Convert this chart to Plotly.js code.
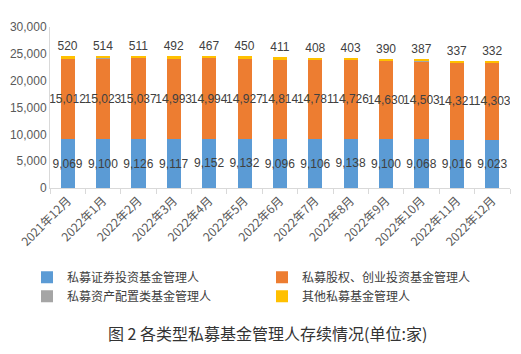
<!DOCTYPE html>
<html>
<head>
<meta charset="utf-8">
<script src="https://cdn.plot.ly/plotly-3.0.1.min.js"></script>
<style>html,body{margin:0;padding:0;background:#fff;}#chart{width:521px;height:354px;}</style>
</head>
<body>
<div id="chart"></div>
<script>
var months = ["2021年12月","2022年1月","2022年2月","2022年3月","2022年4月","2022年5月","2022年6月","2022年7月","2022年8月","2022年9月","2022年10月","2022年11月","2022年12月"];
var securities = [9069, 9100, 9126, 9117, 9152, 9132, 9096, 9106, 9138, 9100, 9068, 9016, 9023];
var equityVC = [15012, 15023, 15037, 14993, 14994, 14927, 14814, 14781, 14726, 14630, 14503, 14321, 14303];
var assetAlloc = [9, 9, 9, 9, 9, 9, 9, 9, 9, 9, 9, 9, 9];
var others = [520, 514, 511, 492, 467, 450, 411, 408, 403, 390, 387, 337, 332];
var seriesNames = ["私募证券投资基金管理人","私募股权、创业投资基金管理人","私募资产配置类基金管理人","其他私募基金管理人"];
var caption = "图 2 各类型私募基金管理人存续情况(单位:家)";

function fmt(v){ return v.toLocaleString('en-US'); }
var labelFont = {family: "Liberation Sans, Arial, sans-serif", size: 12, color: "#404040"};

var traces = [
  {type:'bar', name: seriesNames[0], x: months, y: securities, marker:{color:'#5B9BD5'},
   text: securities.map(fmt), textposition:'inside', insidetextanchor:'middle', textangle:0,
   constraintext:'none', textfont: labelFont, insidetextfont: labelFont, hoverinfo:'none'},
  {type:'bar', name: seriesNames[1], x: months, y: equityVC, marker:{color:'#ED7D31'},
   text: equityVC.map(fmt), textposition:'inside', insidetextanchor:'middle', textangle:0,
   constraintext:'none', textfont: labelFont, insidetextfont: labelFont, hoverinfo:'none'},
  {type:'bar', name: seriesNames[2], x: months, y: assetAlloc, marker:{color:'#A5A5A5'},
   textposition:'none', hoverinfo:'none'},
  {type:'bar', name: seriesNames[3], x: months, y: others, marker:{color:'#FFC000'},
   text: others.map(fmt), textposition:'outside', textangle:0, constraintext:'none',
   textfont: labelFont, outsidetextfont: labelFont, cliponaxis:false, hoverinfo:'none'}
];

var layout = {
  width: 521, height: 354,
  margin: {l: 50, r: 11, t: 27, b: 166},
  paper_bgcolor: '#ffffff', plot_bgcolor: '#ffffff',
  barmode: 'stack', bargap: 0.6,
  font: {family: "Noto Sans CJK SC, Liberation Sans, sans-serif", color: '#595959', size: 12},
  showlegend: true,
  xaxis: {
    type: 'category', tickangle: -45, tickson: 'boundaries', ticks: 'outside', ticklen: 5,
    tickcolor: '#d9d9d9', showline: true, linecolor: '#d9d9d9', linewidth: 1,
    showgrid: false, zeroline: false,
    tickfont: {family: "Noto Sans CJK SC, sans-serif", size: 12, color: '#595959'}
  },
  yaxis: {
    range: [0, 30000], dtick: 5000, tickformat: ',d', showgrid: false, zeroline: false,
    showline: true, linecolor: '#d9d9d9', linewidth: 1, ticks: '',
    tickfont: {family: "Liberation Sans, Arial, sans-serif", size: 12, color: '#595959'}
  },
  legend: {
    orientation: 'h', x: -0.05, y: -0.465,
    xanchor: 'left', yanchor: 'top', entrywidth: 190, entrywidthmode: 'pixels',
    traceorder: 'normal', tracegroupgap: 0,
    font: {family: "Noto Sans CJK SC, sans-serif", size: 12, color: '#404040'}
  },
  annotations: [{
    text: caption, xref: 'paper', yref: 'paper', x: 0.472, y: 0, yshift: -145,
    xanchor: 'center', yanchor: 'middle', showarrow: false,
    font: {family: "Noto Sans CJK SC, sans-serif", size: 16, color: '#333333'}
  }]
};

Plotly.newPlot('chart', traces, layout, {displayModeBar: false, staticPlot: true});
</script>
</body>
</html>
